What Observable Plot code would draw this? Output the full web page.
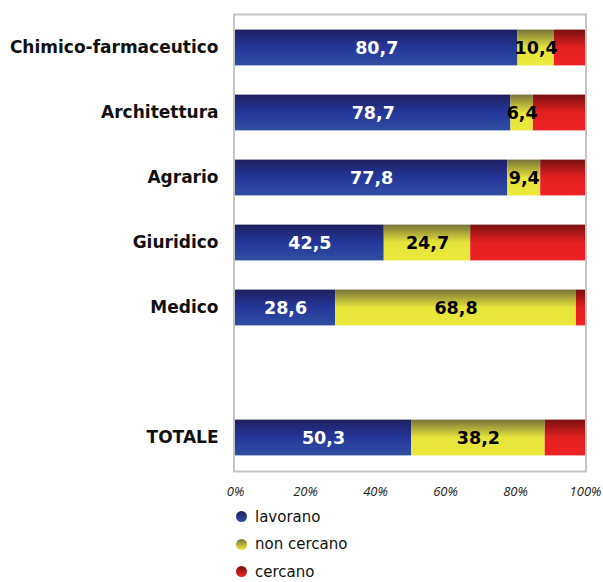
<!DOCTYPE html>
<html>
<head>
<meta charset="utf-8">
<script src="https://cdn.jsdelivr.net/npm/d3@7"></script>
<script src="https://cdn.jsdelivr.net/npm/@observablehq/plot@0.6"></script>
<style>
  body { margin: 0; background: #fff; }
  #chart { width: 603px; }
  .legend { font-family: "DejaVu Sans", sans-serif; font-size: 15px; color: #111; padding-left: 236px; margin-top: -2px; }
  .legend .item { height: 27.5px; display: flex; align-items: center; }
  .legend .dot { width: 11px; height: 11px; border-radius: 50%; margin-right: 8px; }
</style>
</head>
<body>
<div id="chart"></div>
<script>
const categories = ["Chimico-farmaceutico", "Architettura", "Agrario", "Giuridico", "Medico", " ", "TOTALE"];
const seriesNames = ["lavorano", "non cercano", "cercano"];
const lavorano   = [80.7, 78.7, 77.8, 42.5, 28.6, null, 50.3];
const nonCercano = [10.4,  6.4,  9.4, 24.7, 68.8, null, 38.2];
const cercano    = [ 8.9, 14.9, 12.8, 32.8,  2.6, null, 11.5];
const xTicks = [0, 20, 40, 60, 80, 100];

const seriesValues = [lavorano, nonCercano, cercano];
const gradIds = ["gBlue", "gYellow", "gRed"];
const gradStops = [
  ["#201f5e", "#24379a", "#2f4fa2"],
  ["#77733a", "#e6e43a", "#ece83c"],
  ["#781010", "#e42020", "#ee2225"]
];
const labelColors = ["#ffffff", "#000000", "#000000"];

const rows = [];
categories.forEach((c, i) => {
  seriesNames.forEach((s, j) => {
    const v = seriesValues[j][i];
    if (v != null) rows.push({cat: c, series: s, value: v, j});
  });
});

const fmt = v => v.toFixed(1).replace(".", ",");

const svg = Plot.plot({
  width: 603,
  height: 505,
  marginLeft: 235,
  marginRight: 18,
  marginTop: 14,
  marginBottom: 34,
  style: {fontFamily: "DejaVu Sans, sans-serif", background: "#fff"},
  x: {domain: [0, 100], axis: null},
  y: {domain: categories, padding: 0, axis: null},
  color: {domain: seriesNames, range: gradIds.map(g => `url(#${g})`)},
  marks: [
    Plot.frame({stroke: "#c4c4c4", strokeWidth: 2, insetLeft: -1.5, insetRight: -0.5}),
    Plot.barX(rows, Plot.stackX({x: "value", y: "cat", fill: "series", order: seriesNames, insetTop: 14.6, insetBottom: 14.6})),
    Plot.text(rows, Plot.stackX({
      x: "value", y: "cat", z: "series", order: seriesNames,
      text: d => d.series === "cercano" ? null : fmt(d.value),
      fill: d => labelColors[d.j],
      fontSize: 17.5, fontWeight: "bold"
    })),
    Plot.axisY({tickSize: 0, tickPadding: 17, fontSize: 17, fontWeight: "bold", fill: "#111", label: null}),
    Plot.axisX({ticks: xTicks, tickSize: 0, tickPadding: 15, tickFormat: d => d + "%", fontSize: 13, fontStyle: "italic", fontFamily: "Open Sans, sans-serif", fill: "#222", label: null})
  ]
});

const defs = d3.select(svg).insert("defs", ":first-child");
gradIds.forEach((id, k) => {
  const g = defs.append("linearGradient").attr("id", id).attr("x1", 0).attr("y1", 0).attr("x2", 0).attr("y2", 1);
  g.append("stop").attr("offset", "0%").attr("stop-color", gradStops[k][0]);
  g.append("stop").attr("offset", "50%").attr("stop-color", gradStops[k][1]);
  g.append("stop").attr("offset", "100%").attr("stop-color", gradStops[k][2]);
});

const chart = document.getElementById("chart");
chart.appendChild(svg);

const legend = document.createElement("div");
legend.className = "legend";
seriesNames.forEach((s, k) => {
  const item = document.createElement("div");
  item.className = "item";
  const dot = document.createElement("span");
  dot.className = "dot";
  dot.style.background = `linear-gradient(${gradStops[k][0]}, ${gradStops[k][2]})`;
  const label = document.createElement("span");
  label.textContent = s;
  item.appendChild(dot);
  item.appendChild(label);
  legend.appendChild(item);
});
chart.appendChild(legend);
</script>
</body>
</html>
